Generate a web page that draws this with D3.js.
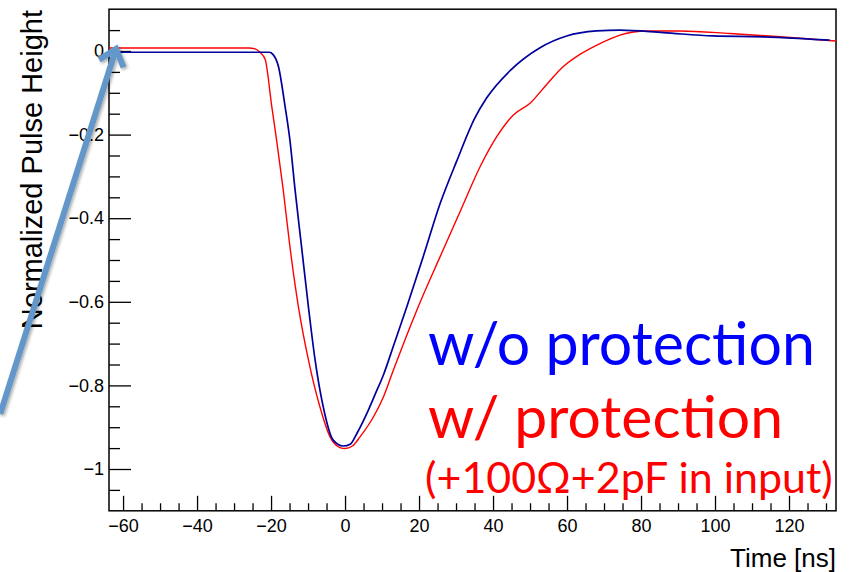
<!DOCTYPE html>
<html lang="en">
<head>
<meta charset="UTF-8">
<title>Normalized Pulse Height</title>
<script src="https://d3js.org/d3.v7.min.js"></script>
<style>
    html, body {
        margin: 0;
        padding: 0;
        background: #fff;
    }
    text {
        font-family: "Liberation Sans", Arial, sans-serif;
    }
    .tick line {
        stroke: #000;
        stroke-width: 1.3px;
    }
    .axis text {
        font-size: 18px;
        fill: #000;
    }
    .legend text {
        font-family: Lato, "Open Sans", sans-serif;
    }
</style>
</head>
<body>
<script>

// w/o protection (blue)
var timeBlue = [-63.8, -40, -25, -20.5, -19.5, -18.0, -16.2, -14.9, -13.5, -11.8, -9.9, -8.1, -5.9, -3.2, -0.5,
    1.5, 3.2, 5.9, 8.1, 10.5, 13.1, 16.7, 21.2, 25.7, 30.2, 35.1, 38.3, 44.6, 52.7, 59.9, 68, 74.3, 86, 99.5, 113, 126.6, 131];
var heightBlue = [-0.003, -0.003, -0.003, -0.003, -0.008, -0.037, -0.133, -0.213, -0.333, -0.465, -0.612, -0.739, -0.851, -0.931, -0.945,
    -0.94, -0.915, -0.867, -0.822, -0.772, -0.705, -0.612, -0.49, -0.365, -0.263, -0.16, -0.112, -0.047, 0.008, 0.036, 0.048, 0.050, 0.044, 0.036, 0.034, 0.028, 0.026];

// w/ protection (red)
var timeRed = [-63.8, -40, -26, -24.3, -23.0, -21.6, -19.8, -18.5, -16.7, -14.9, -12.6, -9.9, -6.8, -4.05, -1.5, 0.0,
    2, 4.05, 7.7, 10.4, 13.0, 19.4, 25.7, 31.5, 36.5, 41.0, 45.5, 50.0, 54.5, 59.0, 63.5, 68.5, 74.3, 81.5, 90.5, 104, 117.6, 132.7];
var heightRed = [0.007, 0.007, 0.007, 0.005, -0.003, -0.02, -0.133, -0.213, -0.333, -0.468, -0.612, -0.739, -0.851, -0.923, -0.948, -0.951,
    -0.945, -0.923, -0.875, -0.827, -0.765, -0.62, -0.492, -0.376, -0.277, -0.205, -0.153, -0.125, -0.08, -0.037, -0.008, 0.016, 0.038, 0.048, 0.048, 0.042, 0.034, 0.024];

var xMajor = [-60, -40, -20, 0, 20, 40, 60, 80, 100, 120];
var yMajor = [-1, -0.8, -0.6, -0.4, -0.2, 0];
var legendLines = ["w/o protection", "w/ protection", "(+100\u03A9+2pF in input)"];
var legendColors = ["#0000ff", "#ff0000", "#ff0000"];

// arrow annotation, in data coordinates: tail then tip
var arrowTime = [-93.2, -61.9];
var arrowHeight = [-0.868, 0.005];

var width = 856, height = 572;
var margin = {left: 109, right: 20, top: 9.2, bottom: 61.2};

var x = d3.scaleLinear().domain([-63.8, 132.7]).range([margin.left, width - margin.right]);
var y = d3.scaleLinear().domain([-1.1, 0.1]).range([height - margin.bottom, margin.top]);

var svg = d3.select("body").append("svg").attr("width", width).attr("height", height);

var defs = svg.append("defs");
defs.append("filter").attr("id", "shadow").attr("x", "-20%").attr("y", "-20%").attr("width", "140%").attr("height", "140%")
    .append("feDropShadow").attr("dx", 1.5).attr("dy", 1.5).attr("stdDeviation", 1.5)
    .attr("flood-color", "#000").attr("flood-opacity", 0.35);

var x0 = x.range()[0], x1 = x.range()[1], y0 = y.range()[0], y1 = y.range()[1];

// minor ticks
var xMinor = d3.range(-60, 131, 5).filter(function(d) { return xMajor.indexOf(d) < 0; });
var yMinor = d3.range(-21, 2).map(function(d) { return +(d * 0.05).toFixed(2); })
    .filter(function(d) { return yMajor.indexOf(d) < 0; });

svg.append("g").attr("class", "axis")
    .attr("transform", "translate(0," + y0 + ")")
    .call(d3.axisBottom(x).tickValues(xMinor).tickFormat("").tickSize(-7.5).tickSizeOuter(0))
    .call(function(g) { g.select(".domain").remove(); });

svg.append("g").attr("class", "axis")
    .attr("transform", "translate(0," + y0 + ")")
    .call(d3.axisBottom(x).tickValues(xMajor).tickFormat(d3.format("d")).tickSize(-15).tickSizeOuter(0).tickPadding(8))
    .call(function(g) { g.select(".domain").remove(); });

svg.append("g").attr("class", "axis")
    .attr("transform", "translate(" + x0 + ",0)")
    .call(d3.axisLeft(y).tickValues(yMinor).tickFormat("").tickSize(-11).tickSizeOuter(0))
    .call(function(g) { g.select(".domain").remove(); });

svg.append("g").attr("class", "axis")
    .attr("transform", "translate(" + x0 + ",0)")
    .call(d3.axisLeft(y).tickValues(yMajor).tickFormat(function(d) { return d === 0 ? "0" : d3.format("")(d); })
        .tickSize(-22).tickSizeOuter(0).tickPadding(5))
    .call(function(g) { g.select(".domain").remove(); });

svg.selectAll(".axis text").attr("font-size", null).attr("font-family", null);

// frame
svg.append("rect")
    .attr("x", x0).attr("y", y1)
    .attr("width", x1 - x0).attr("height", y0 - y1)
    .attr("fill", "none").attr("stroke", "#000").attr("stroke-width", 1.5);

// curves
var line = d3.line()
    .x(function(d) { return x(d[0]); })
    .y(function(d) { return y(d[1]); })
    .curve(d3.curveMonotoneX);

svg.append("path")
    .datum(d3.zip(timeRed, heightRed))
    .attr("fill", "none").attr("stroke", "#ff0000").attr("stroke-width", 1.4)
    .attr("d", line);

svg.append("path")
    .datum(d3.zip(timeBlue, heightBlue))
    .attr("fill", "none").attr("stroke", "#00009c").attr("stroke-width", 1.7)
    .attr("d", line);

// axis titles
svg.append("text")
    .attr("x", x1).attr("y", 567)
    .attr("text-anchor", "end")
    .attr("font-size", 26)
    .text("Time [ns]");

svg.append("text")
    .attr("transform", "translate(42,10) rotate(-90)")
    .attr("text-anchor", "end")
    .attr("font-size", 29)
    .text("Normalized Pulse Height");

// arrow
var tail = [x(arrowTime[0]), y(arrowHeight[0])];
var tip = [x(arrowTime[1]), y(arrowHeight[1])];
var ang = Math.atan2(tail[1] - tip[1], tail[0] - tip[0]);
var wing = 20, spread = 40 * Math.PI / 180;
var arrow = svg.append("g").attr("filter", "url(#shadow)")
    .attr("stroke", "#6497c9").attr("stroke-width", 6).attr("fill", "none");
arrow.append("line")
    .attr("x1", tail[0]).attr("y1", tail[1])
    .attr("x2", tip[0]).attr("y2", tip[1]);
arrow.append("polyline")
    .attr("stroke-linejoin", "miter")
    .attr("points", [
        [tip[0] + wing * Math.cos(ang + spread), tip[1] + wing * Math.sin(ang + spread)],
        tip,
        [tip[0] + wing * Math.cos(ang - spread), tip[1] + wing * Math.sin(ang - spread)]
    ].map(function(p) { return p.join(","); }).join(" "));

// legend text, sized to the width it takes in the picture
var legendLeft = [428, 428, 425];
var legendRight = [815, 783, 833];
var legendBase = [365, 438, 493];
var legend = svg.append("g").attr("class", "legend");
legendLines.forEach(function(s, i) {
    var t = legend.append("text")
        .attr("x", legendLeft[i]).attr("y", legendBase[i])
        .attr("fill", legendColors[i])
        .attr("font-size", 50)
        .text(s);
    var w = t.node().getComputedTextLength();
    t.attr("font-size", 50 * (legendRight[i] - legendLeft[i]) / w);
});

</script>
</body>
</html>
